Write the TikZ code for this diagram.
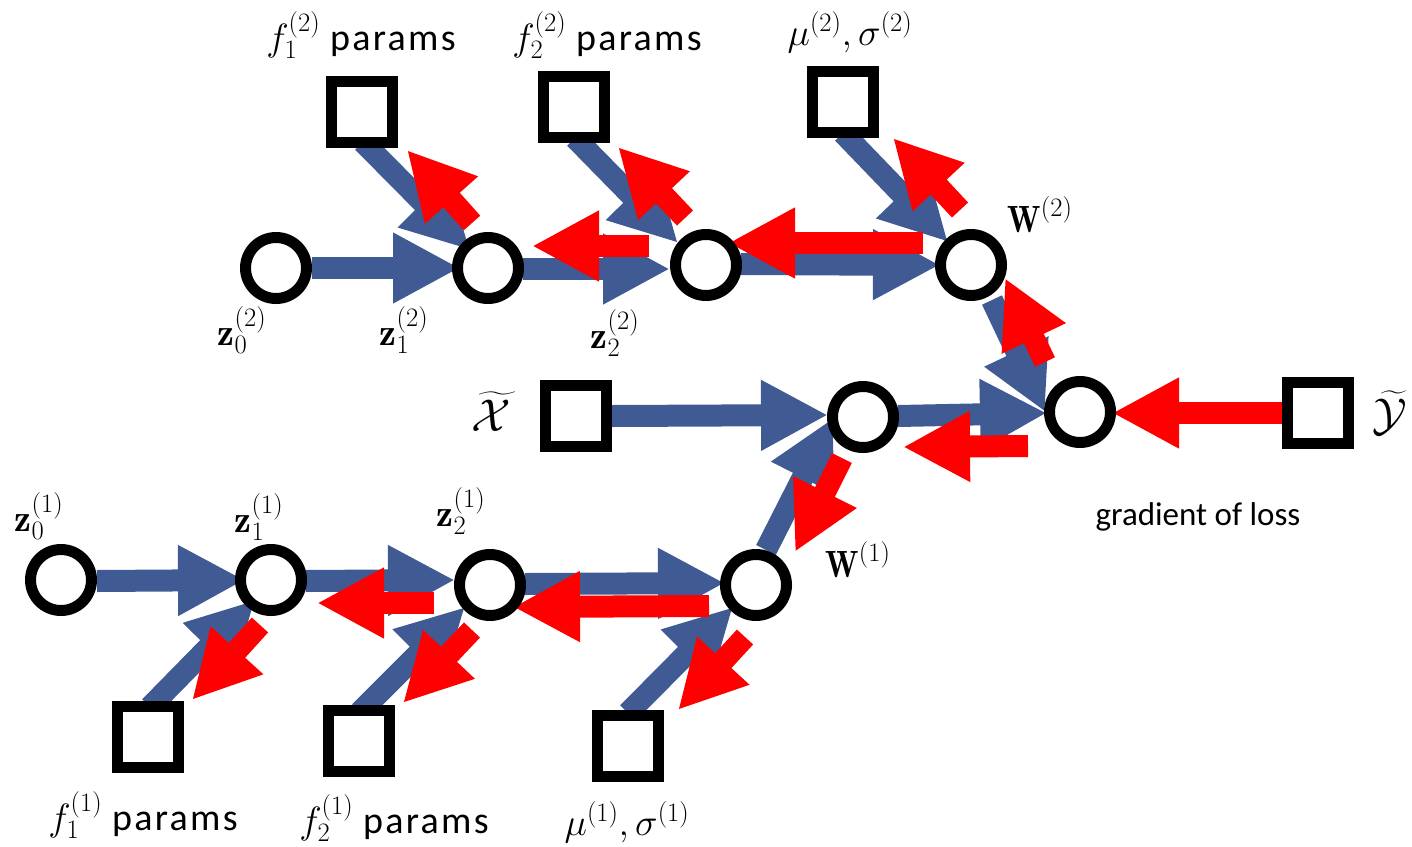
\RequirePackage{fix-cm}
\documentclass[tikz,border=0pt]{standalone}
\usepackage{amsmath}
\usepackage{exscale}
\usepackage{fontspec}
\usepackage{graphicx}
\newfontfamily\carlsp[LetterSpace=6]{Carlito}
\newfontfamily\carl{Carlito}
\usetikzlibrary{arrows.meta,calc,backgrounds}
\definecolor{fwd}{HTML}{405A94}
\definecolor{bwd}{HTML}{FF0000}
\newcommand{\myW}{\scalebox{0.85}[1]{$\mathbf{W}$}}
\newcommand{\prm}{\hspace{10pt}{\carlsp params}}
\begin{document}
\begin{tikzpicture}[x=1pt,y=-1pt,
  circ/.style={circle,draw=black,line width=11pt,fill=white,minimum size=61pt,inner sep=0pt},
  sq/.style={rectangle,draw=black,line width=11pt,fill=white,minimum size=61pt,inner sep=0pt},
  fwdarrow/.style={draw=fwd,line width=22pt,-{Triangle[length=67pt,width=66pt]}},
  bwdarrow/.style={draw=bwd,line width=22pt,-{Triangle[length=67pt,width=66pt]}},
  lab/.style={inner sep=0pt,font=\fontsize{38}{40}\selectfont},
  txt/.style={inner sep=0pt,font=\fontsize{33}{36}\selectfont},
  big/.style={inner sep=0pt,font=\fontsize{46}{50}\selectfont}]
\useasboundingbox (0,0) rectangle (1412,846);
% circles
\node[circ] (a0) at (276,268) {};
\node[circ] (a1) at (488,268) {};
\node[circ] (a2) at (706,265) {};
\node[circ] (w2) at (971,265) {};
\node[circ] (mid) at (863,417) {};
\node[circ] (loss) at (1080,412) {};
\node[circ] (w1) at (756,585) {};
\node[circ] (b0) at (61,580) {};
\node[circ] (b1) at (271,580) {};
\node[circ] (b2) at (490,585) {};
% squares
\node[sq] (pa1) at (362,112) {};
\node[sq] (pa2) at (574,107) {};
\node[sq] (pmu2) at (843,102) {};
\node[sq] (sx) at (576,416) {};
\node[sq] (sy) at (1318,413) {};
\node[sq] (pb1) at (148,737) {};
\node[sq] (pb2) at (359,741) {};
\node[sq] (pmu1) at (628,746) {};
% arrows
\begin{scope}[on background layer]
\draw[fwdarrow] ($(a0)+(36,0)$) -- ($(a1)+(-28,0)$);
\draw[fwdarrow] ($(pa1)+(1,30)$) -- ($(a1)+(-18,-18)$);
\draw[fwdarrow] ($(a1)+(35,1)$) -- ($(a2)+(-36,4)$);
\draw[fwdarrow] ($(pa2)+(1,31)$) -- ($(a2)+(-28,-22)$);
\draw[fwdarrow] ($(a2)+(35,-1)$) -- ($(w2)+(-31,0)$);
\draw[fwdarrow] ($(pmu2)+(0,31)$) -- ($(w2)+(-23,-23)$);
\draw[fwdarrow] ($(w2)+(21,35)$) -- ($(loss)+(-35,0)$);
\draw[fwdarrow] ($(sx)+(36,0)$) -- ($(mid)+(-35,-2)$);
\draw[fwdarrow] ($(w1)+(10,-35)$) -- ($(mid)+(-30,1)$);
\draw[fwdarrow] ($(mid)+(35,-1)$) -- ($(loss)+(-33,1)$);
\draw[fwdarrow] ($(b0)+(36,1)$) -- ($(b1)+(-26,0)$);
\draw[fwdarrow] ($(pb1)+(2,-30)$) -- ($(b1)+(-16,20)$);
\draw[fwdarrow] ($(b1)+(35,1)$) -- ($(b2)+(-35,-5)$);
\draw[fwdarrow] ($(pb2)+(1,-29)$) -- ($(b2)+(-25,22)$);
\draw[fwdarrow] ($(b2)+(35,-1)$) -- ($(w1)+(-31,-2)$);
\draw[fwdarrow] ($(pmu1)+(0,-33)$) -- ($(w1)+(-23,22)$);
% gradient
\draw[bwdarrow] ($(sy)+(-30,0)$) -- ($(loss)+(32,1)$);
\draw[bwdarrow] ($(loss)+(-52,34)$) -- ($(mid)+(40,30)$);
\draw[bwdarrow] ($(loss)+(-35,-50)$) -- ($(w2)+(34,13)$);
\draw[bwdarrow] ($(w2)+(-48,-22)$) -- ($(a2)+(22,-22)$);
\draw[bwdarrow] ($(w2)+(-11,-55)$) -- ($(pmu2)+(50,36)$);
\draw[bwdarrow] ($(a2)+(-57,-19)$) -- ($(a1)+(44,-22)$);
\draw[bwdarrow] ($(a2)+(-21,-47)$) -- ($(pa2)+(44,40)$);
\draw[bwdarrow] ($(a1)+(-16,-45)$) -- ($(pa1)+(45,38)$);
\draw[bwdarrow] ($(mid)+(-21,41)$) -- ($(w1)+(39,-33)$);
\draw[bwdarrow] ($(w1)+(-47,21)$) -- ($(b2)+(23,22)$);
\draw[bwdarrow] ($(w1)+(-11,52)$) -- ($(pmu1)+(50,-36)$);
\draw[bwdarrow] ($(b2)+(-56,18)$) -- ($(b1)+(46,23)$);
\draw[bwdarrow] ($(b2)+(-18,45)$) -- ($(pb2)+(44,-38)$);
\draw[bwdarrow] ($(b1)+(-11,45)$) -- ($(pb1)+(44,-37)$);
\end{scope}
% labels
\node[lab] (la0) at (242,330) {$\mathbf{z}_0^{(2)}$};
\node[lab] (la1) at (404,330) {$\mathbf{z}_1^{(2)}$};
\node[lab] (la2) at (615,333) {$\mathbf{z}_2^{(2)}$};
\node[lab] (lb0) at (39,516) {$\mathbf{z}_0^{(1)}$};
\node[lab] (lb1) at (259,517) {$\mathbf{z}_1^{(1)}$};
\node[lab] (lb2) at (461,511) {$\mathbf{z}_2^{(1)}$};
\node[lab] (lw2) at (1040,215) {$\myW^{(2)}$};
\node[lab] (lw1) at (858,560) {$\myW^{(1)}$};
\node[lab] (lmu2) at (850,32) {$\mu^{(2)},\sigma^{(2)}$};
\node[lab] (lmu1) at (627,822) {$\mu^{(1)},\sigma^{(1)}$};
\node[lab] (lpa1) at (361,35) {$f_1^{(2)}$\prm};
\node[lab] (lpa2) at (607,35) {$f_2^{(2)}$\prm};
\node[lab] (lpb1) at (143,815) {$f_1^{(1)}$\prm};
\node[lab] (lpb2) at (394,818) {$f_2^{(1)}$\prm};
\node[big] (lx) at (491,412) {$\widetilde{\mathcal{X}}$};
\node[big] (ly) at (1390,413) {$\widetilde{\mathcal{Y}}$};
\node[txt] (lloss) at (1198,517) {\carl gradient of loss};
\end{tikzpicture}
\end{document}
